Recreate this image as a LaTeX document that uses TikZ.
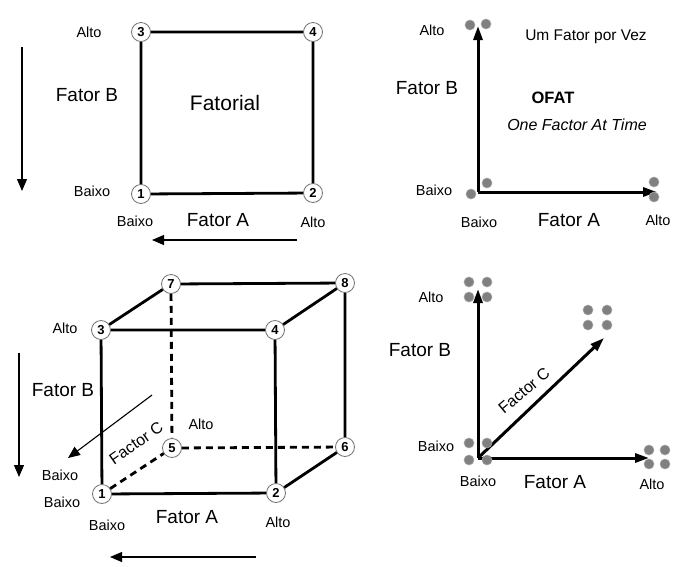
\documentclass[tikz,border=0pt]{standalone}
\usepackage{fontspec}
\setmainfont{Liberation Sans}
\usetikzlibrary{arrows.meta}
\begin{document}
\begin{tikzpicture}[x=1pt,y=-1pt,
  corner/.style={circle,draw=black!55,fill=white,line width=0.8pt,minimum size=19pt,inner sep=0pt,font=\fontsize{13}{13}\selectfont\bfseries},
  edge/.style={line width=2.8pt},
  hidden/.style={line width=2.8pt,dash pattern=on 7pt off 5pt},
  lbl/.style={font=\fontsize{14.5}{14.5}\selectfont},
  big/.style={font=\fontsize{19}{19}\selectfont},
  slant/.style={font=\fontsize{16}{16}\selectfont,inner sep=1pt},
  guide/.style={line width=1.1pt,-{Triangle[length=12pt,width=10pt]}},
  axis/.style={line width=3pt,-{Triangle[length=14pt,width=9pt]}},
  pt/.style={circle,fill=black!50,draw=black!35,line width=0.6pt,minimum size=10pt,inner sep=0pt}]
\useasboundingbox (0,0) rectangle (673,566);
\fill[white] (0,0) rectangle (673,566);

% ---- Full factorial, two factors ----
\node[corner] (s3) at (141,32) {3};
\node[corner] (s4) at (313,32) {4};
\node[corner] (s1) at (141,194) {1};
\node[corner] (s2) at (313,193) {2};
\draw[edge] (s3) -- (s4) (s4) -- (s2) (s2) -- (s1) (s1) -- (s3);
\node[lbl] (sAltoB) at (89,32) {Alto};
\node[big] (sFB) at (87,95) {Fator B};
\node[font=\fontsize{21}{21}\selectfont] (sFat) at (225,103) {Fatorial};
\node[lbl] (sBaixoB) at (92,191) {Baixo};
\node[lbl] (sBaixoA) at (135,221) {Baixo};
\node[big] (sFA) at (218,220) {Fator A};
\node[lbl] (sAltoA) at (313,222) {Alto};
\coordinate (sdTop) at (22,47);
\coordinate (sdBot) at (22,191);
\draw[guide] (sdTop) -- (sdBot);
\coordinate (slR) at (297,240);
\coordinate (slL) at (152,240);
\draw[guide] (slR) -- (slL);

% ---- One factor at a time, two factors ----
\coordinate (o0) at (478,192);
\coordinate (oB) at (478,26);
\coordinate (oA) at (657,192);
\draw[axis] (o0) -- (oB);
\draw[axis] (o0) -- (oA);
\node[pt] (op1) at (470,25) {};
\node[pt] (op2) at (486,24) {};
\node[pt] (op3) at (487,183) {};
\node[pt] (op4) at (471,194) {};
\node[pt] (op5) at (654,182) {};
\node[pt] (op6) at (654,197) {};
\node[lbl] (oAltoB) at (432,30) {Alto};
\node[font=\fontsize{15.5}{15.5}\selectfont] (oTitle) at (586,37) {Um Fator por Vez};
\node[big] (oFB) at (427,88) {Fator B};
\node[font=\fontsize{16.5}{16.5}\selectfont\bfseries] (oOFAT) at (553,98) {OFAT};
\node[font=\fontsize{16}{16}\selectfont\itshape] (oFull) at (577,125) {One Factor At Time};
\node[lbl] (oBaixoB) at (434,190) {Baixo};
\node[lbl] (oBaixoA) at (479,222) {Baixo};
\node[big] (oFA) at (569,220) {Fator A};
\node[lbl] (oAltoA) at (658,220) {Alto};

% ---- Full factorial, three factors ----
\node[corner] (c7) at (171,284) {7};
\node[corner] (c8) at (345,283) {8};
\node[corner] (c3) at (101,330) {3};
\node[corner] (c4) at (275,330) {4};
\node[corner] (c5) at (172,448) {5};
\node[corner] (c6) at (345,447) {6};
\node[corner] (c1) at (102,494) {1};
\node[corner] (c2) at (276,493) {2};
\draw[hidden] (c7) -- (c5) (c5) -- (c6) (c1) -- (c5);
\draw[edge] (c3) -- (c7) (c7) -- (c8) (c8) -- (c6) (c3) -- (c4) (c4) -- (c8)
  (c3) -- (c1) (c4) -- (c2) (c1) -- (c2) (c2) -- (c6);
\node[lbl] (cAltoB) at (65,328) {Alto};
\node[big] (cFB) at (63,390) {Fator B};
\node[lbl] (cAltoC) at (201,424) {Alto};
\node[slant,rotate=35] (cFC) at (136,443) {Factor C};
\node[lbl] (cBaixoC) at (60,475) {Baixo};
\node[lbl] (cBaixoB) at (62,502) {Baixo};
\node[lbl] (cBaixoA) at (107,525) {Baixo};
\node[big] (cFA) at (187,517) {Fator A};
\node[lbl] (cAltoA) at (278,522) {Alto};
\coordinate (cdTop) at (19,353);
\coordinate (cdBot) at (19,477);
\draw[guide] (cdTop) -- (cdBot);
\coordinate (ccFrom) at (152,395);
\coordinate (ccTo) at (68,458);
\draw[guide] (ccFrom) -- (ccTo);
\coordinate (clR) at (256,557);
\coordinate (clL) at (110,557);
\draw[guide] (clR) -- (clL);

% ---- One factor at a time, three factors ----
\coordinate (t0) at (478,458);
\coordinate (tB) at (478,289);
\coordinate (tA) at (649,458);
\coordinate (tC) at (604,338);
\draw[axis] (t0) -- (tB);
\draw[axis] (t0) -- (tA);
\draw[axis] (t0) -- (tC);
\foreach \n/\x/\y in {a/469/282,b/487/282,c/469/297,d/487/297,
                      e/469/443,f/487/443,g/469/460,h/487/460,
                      i/649/450,j/665/450,k/649/464,l/665/464,
                      m/588/310,n/607/310,o/588/325,p/607/325}
  \node[pt] (tp\n) at (\x,\y) {};
\node[lbl] (tAltoB) at (431,297) {Alto};
\node[big] (tFB) at (420,350) {Fator B};
\node[slant,rotate=40] (tFC) at (524,391) {Factor C};
\node[lbl] (tBaixoB) at (436,446) {Baixo};
\node[lbl] (tBaixoA) at (478,481) {Baixo};
\node[big] (tFA) at (555,482) {Fator A};
\node[lbl] (tAltoA) at (652,484) {Alto};
\end{tikzpicture}
\end{document}
